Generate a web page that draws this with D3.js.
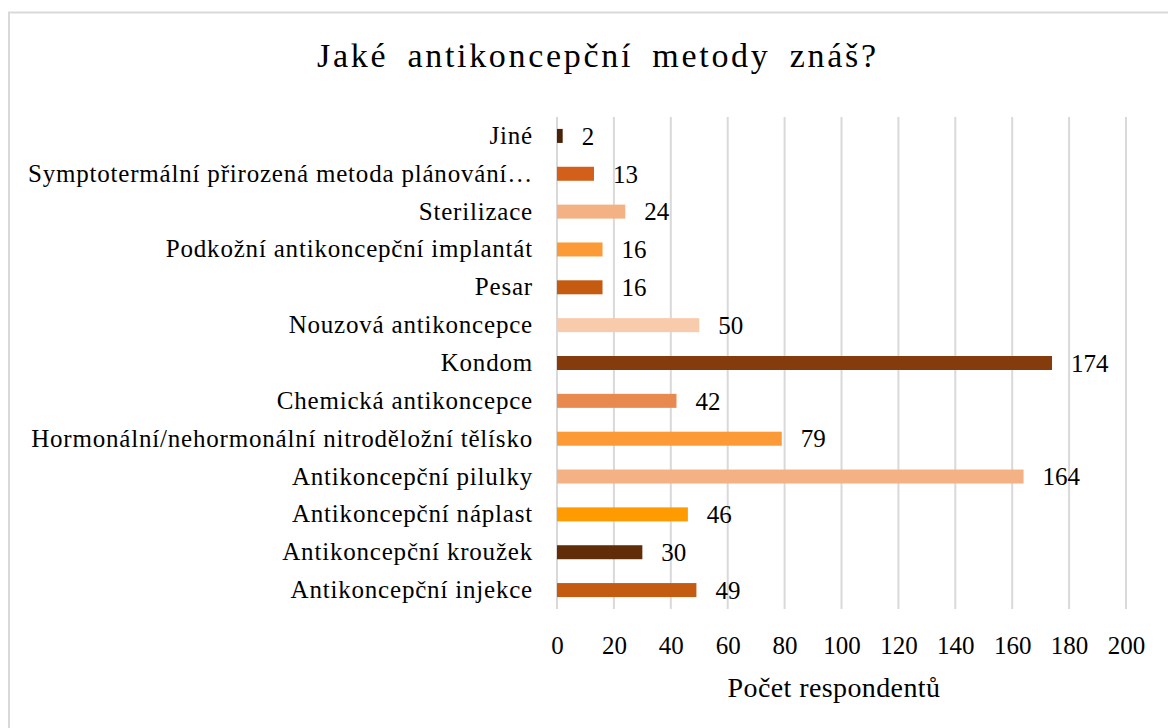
<!DOCTYPE html>
<html lang="cs">
<head>
    <meta charset="UTF-8">
    <title>Jaké antikoncepční metody znáš?</title>
    <style>
        body { margin: 0; background: #fff; }
        svg { display: block; font-family: "Liberation Serif", "DejaVu Serif", serif; }
        svg text { font-family: "Liberation Serif", "DejaVu Serif", serif !important; }
    </style>
</head>
<body>
    <svg width="1168" height="728"></svg>

    <script src="https://d3js.org/d3.v7.min.js"></script>
    <script>
        // categories top to bottom
        const categories = [
            "Jiné",
            "Symptotermální přirozená metoda plánování…",
            "Sterilizace",
            "Podkožní antikoncepční implantát",
            "Pesar",
            "Nouzová antikoncepce",
            "Kondom",
            "Chemická antikoncepce",
            "Hormonální/nehormonální nitroděložní tělísko",
            "Antikoncepční pilulky",
            "Antikoncepční náplast",
            "Antikoncepční kroužek",
            "Antikoncepční injekce"
        ];
        const values = [2, 13, 24, 16, 16, 50, 174, 42, 79, 164, 46, 30, 49];
        const barColors = [
            "#4a2208", "#d2601a", "#f4b183", "#fb9a36", "#c55a11", "#f8cbad", "#843c0c",
            "#e8894f", "#fb9a36", "#f4b183", "#fd9b00", "#612c08", "#c55a11"
        ];
        const xTicks = [0, 20, 40, 60, 80, 100, 120, 140, 160, 180, 200];

        const svg = d3.select("svg");

        // chart frame
        svg.append("rect")
            .attr("x", 9).attr("y", 12.5)
            .attr("width", 1200).attr("height", 800)
            .attr("fill", "none")
            .attr("stroke", "#d9d9d9")
            .attr("stroke-width", 2);

        const plot = { left: 557, right: 1126, top: 117, bottom: 609 };

        const x = d3.scaleLinear().domain([0, 200]).range([plot.left, plot.right]);
        const y = d3.scaleBand().domain(categories).range([plot.top, plot.bottom]).paddingInner(0.63).paddingOuter(0.315);

        // gridlines
        svg.append("g")
            .selectAll("line")
            .data(xTicks)
            .join("line")
            .attr("x1", d => x(d)).attr("x2", d => x(d))
            .attr("y1", plot.top).attr("y2", plot.bottom)
            .attr("stroke", "#d9d9d9")
            .attr("stroke-width", 2);

        // bars
        svg.append("g")
            .selectAll("rect")
            .data(values)
            .join("rect")
            .attr("x", x(0))
            .attr("y", (d, i) => y(categories[i]))
            .attr("width", d => x(d) - x(0))
            .attr("height", y.bandwidth())
            .attr("fill", (d, i) => barColors[i]);

        // value labels
        svg.append("g")
            .selectAll("text")
            .data(values)
            .join("text")
            .attr("x", d => x(d) + 19)
            .attr("y", (d, i) => y(categories[i]) + y.bandwidth() / 2)
            .attr("dy", "0.35em")
            .style("font-size", "25px")
            .style("fill", "#000")
            .text(d => d);

        // category axis
        const yAxis = svg.append("g")
            .attr("transform", `translate(${plot.left},0)`)
            .call(d3.axisLeft(y).tickSize(0).tickPadding(24));
        yAxis.select(".domain").remove();
        yAxis.selectAll("text")
            .style("font-size", "25px")
            .style("letter-spacing", "0.8px")
            .style("fill", "#000");

        // value axis
        const xAxis = svg.append("g")
            .attr("transform", `translate(0,${plot.bottom})`)
            .call(d3.axisBottom(x).tickValues(xTicks).tickSize(0).tickPadding(27));
        xAxis.select(".domain").remove();
        xAxis.selectAll("text")
            .style("font-size", "25px")
            .style("fill", "#000");

        // titles
        svg.append("text")
            .attr("x", 317).attr("y", 67)
            .attr("textLength", 559)
            .attr("lengthAdjust", "spacing")
            .style("font-size", "34px")
            .style("word-spacing", "8px")
            .text("Jaké antikoncepční metody znáš?");

        svg.append("text")
            .attr("x", 834).attr("y", 697)
            .attr("text-anchor", "middle")
            .style("font-size", "28px")
            .style("letter-spacing", "0.4px")
            .text("Počet respondentů");
    </script>
</body>
</html>
